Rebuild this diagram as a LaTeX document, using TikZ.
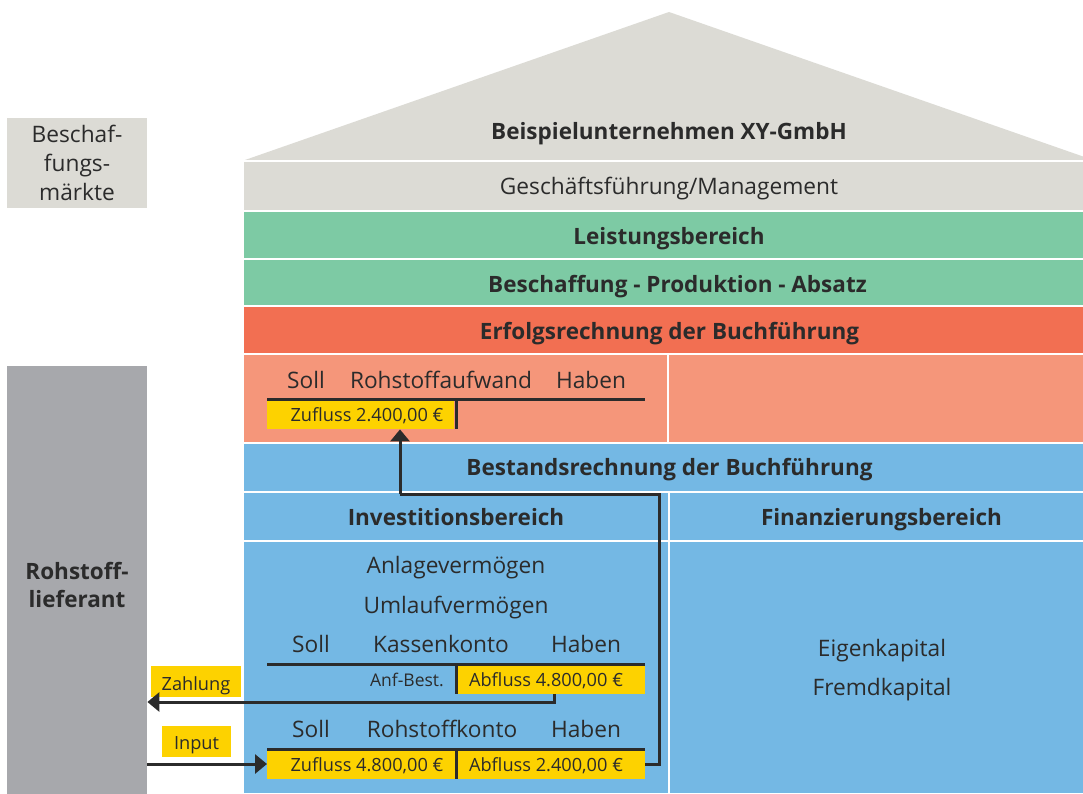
\documentclass[tikz,border=0pt]{standalone}
\usepackage{fontspec}
\setmainfont{Open Sans}
\usetikzlibrary{arrows.meta}
\definecolor{roofgray}{HTML}{DCDBD5}
\definecolor{leafgreen}{HTML}{7DCAA4}
\definecolor{tomato}{HTML}{F26F52}
\definecolor{salmon}{HTML}{F5967A}
\definecolor{skyblue}{HTML}{74B8E4}
\definecolor{signal}{HTML}{FDD200}
\definecolor{stone}{HTML}{A7A8AC}
\definecolor{ink}{HTML}{2B2B2B}
\tikzset{
  band/.style={draw=none, inner sep=0pt, anchor=north west},
  head/.style={font=\fontsize{22.5}{27}\selectfont\bfseries, text=ink, anchor=base, inner sep=0pt},
  plain/.style={font=\fontsize{22.7}{27}\selectfont, text=ink, anchor=base, inner sep=0pt},
  small/.style={font=\fontsize{18.2}{21}\selectfont, text=ink, anchor=base, inner sep=0pt},
  tiny/.style={font=\fontsize{17.5}{20}\selectfont, text=ink, anchor=base east, inner sep=0pt},
  ybox/.style={fill=signal, draw=none, inner sep=0pt, anchor=north west},
  tline/.style={line width=3pt, draw=ink},
  flow/.style={line width=3pt, draw=ink,
    -{Triangle[length=12pt,width=19pt]}},
}
\begin{document}
\begin{tikzpicture}[x=1pt,y=-1pt]
\useasboundingbox (0,0) rectangle (1083,794);
\fill[white] (0,0) rectangle (1083,794);

% roof
\fill[roofgray] (245,160) -- (669,12) -- (1083,156.5) -- (1083,160) -- cycle;
\node[head] (firm) at (669,139.5) {Beispielunternehmen XY-GmbH};

% horizontal bands of the house
\node[band, fill=roofgray, minimum width=839pt, minimum height=48.5pt] (mgmt) at (244,161.5) {};
\node[band, fill=leafgreen, minimum width=839pt, minimum height=45.5pt] (leist) at (244,212) {};
\node[band, fill=leafgreen, minimum width=839pt, minimum height=45.5pt] (bpa) at (244,259.5) {};
\node[band, fill=tomato, minimum width=839pt, minimum height=45.5pt] (erfolg) at (244,307) {};
\node[band, fill=salmon, minimum width=423pt, minimum height=87.5pt] (aufwl) at (244,354.5) {};
\node[band, fill=salmon, minimum width=414pt, minimum height=87.5pt] (aufwr) at (669,354.5) {};
\node[band, fill=skyblue, minimum width=839pt, minimum height=46.5pt] (bestand) at (244,444) {};
\node[band, fill=skyblue, minimum width=424pt, minimum height=47pt] (invh) at (244,492.5) {};
\node[band, fill=skyblue, minimum width=413pt, minimum height=47pt] (finh) at (670,492.5) {};
\node[band, fill=skyblue, minimum width=424pt, minimum height=251.5pt] (inv) at (244,541.5) {};
\node[band, fill=skyblue, minimum width=413pt, minimum height=251.5pt] (fin) at (670,541.5) {};

% band titles
\node[plain] (mgmtname) at (669,195) {Geschäftsführung/Management};
\node[head] (leistname) at (669,244) {Leistungsbereich};
\node[head] (bpaname) at (677.5,292) {Beschaffung - Produktion - Absatz};
\node[head] (erfolgname) at (669.5,339) {Erfolgsrechnung der Buchführung};
\node[head] (bestandname) at (669.5,475.5) {Bestandsrechnung der Buchführung};
\node[head] (invname) at (456,525) {Investitionsbereich};
\node[head] (finname) at (881.5,525) {Finanzierungsbereich};

% left side boxes
\node[band, fill=roofgray, minimum width=140pt, minimum height=90pt] (markt) at (7,118) {};
\node[plain] (markt1) at (77,143) {Beschaf-};
\node[plain] (markt2) at (77,172) {fungs-};
\node[plain] (markt3) at (77,201) {märkte};
\node[band, fill=stone, minimum width=140pt, minimum height=428pt] (lief) at (7,366) {};
\node[head] (lief1) at (77,579) {Rohstoff-};
\node[head] (lief2) at (77,607) {lieferant};

% T-account Rohstoffaufwand
\node[plain] (s1) at (306,388) {Soll};
\node[plain] (n1) at (441,388) {Rohstoffaufwand};
\node[plain] (h1) at (591,388) {Haben};
\node[ybox, minimum width=187pt, minimum height=28.5pt] (zuf24) at (267,400.5) {};
\node[small] (zuf24t) at (367,421) {Zufluss 2.400,00 €};
\coordinate (a1l) at (267,399.5);
\coordinate (a1r) at (645,399.5);
\coordinate (a1m) at (456,399.5);
\draw[tline] (a1l) -- (a1r);
\draw[tline] (a1m) -- (a1m |- zuf24.south);

% asset accounts
\node[plain] (anl) at (456,573) {Anlagevermögen};
\node[plain] (uml) at (456,613) {Umlaufvermögen};

% T-account Kassenkonto
\node[plain] (s2) at (311,652) {Soll};
\node[plain] (n2) at (441,652) {Kassenkonto};
\node[plain] (h2) at (586,652) {Haben};
\node[ybox, minimum width=188pt, minimum height=28.5pt] (ab48) at (457,665) {};
\node[small] (ab48t) at (546,686) {Abfluss 4.800,00 €};
\node[tiny] (anf) at (444,686) {Anf-Best.};
\coordinate (a2l) at (267,664);
\coordinate (a2r) at (645,664);
\coordinate (a2m) at (456,664);
\draw[tline] (a2l) -- (a2r);
\draw[tline] (a2m) -- (a2m |- ab48.south);

% T-account Rohstoffkonto
\node[plain] (s3) at (311,737) {Soll};
\node[plain] (n3) at (442,737) {Rohstoffkonto};
\node[plain] (h3) at (586,737) {Haben};
\node[ybox, minimum width=378pt, minimum height=28.5pt] (rk) at (267,750) {};
\node[small] (zuf48t) at (367,771.5) {Zufluss 4.800,00 €};
\node[small] (ab24t) at (546,771.5) {Abfluss 2.400,00 €};
\coordinate (a3l) at (267,749);
\coordinate (a3r) at (645,749);
\coordinate (a3m) at (456,749);
\draw[tline] (a3l) -- (a3r);
\draw[tline] (a3m) -- (a3m |- rk.south);

% capital
\node[plain] (ek) at (882,656) {Eigenkapital};
\node[plain] (fk) at (882,695) {Fremdkapital};

% flow labels
\node[ybox, minimum width=90pt, minimum height=30.5pt] (zahl) at (151,666) {};
\node[small] (zahlt) at (196,690) {Zahlung};
\node[ybox, minimum width=69pt, minimum height=31pt] (inp) at (162,726) {};
\node[small] (inpt) at (196.5,749) {Input};

% payment: cash account to supplier
\coordinate (zb) at (554,702);
\draw[flow] (zb |- ab48.south) -- (zb) -- (zb -| lief.east);
% raw material delivery into the stock account
\coordinate (ie) at (267,764);
\draw[flow] (ie -| lief.east) -- (ie);
% consumption: stock account to expense account
\coordinate (rise) at (659.5,494);
\coordinate (drop) at (400,494);
\draw[line width=3pt, draw=ink] (rk.east) -| (rise) -- (drop);
\draw[flow] (drop) -- (drop |- zuf24.south);
\end{tikzpicture}
\end{document}
